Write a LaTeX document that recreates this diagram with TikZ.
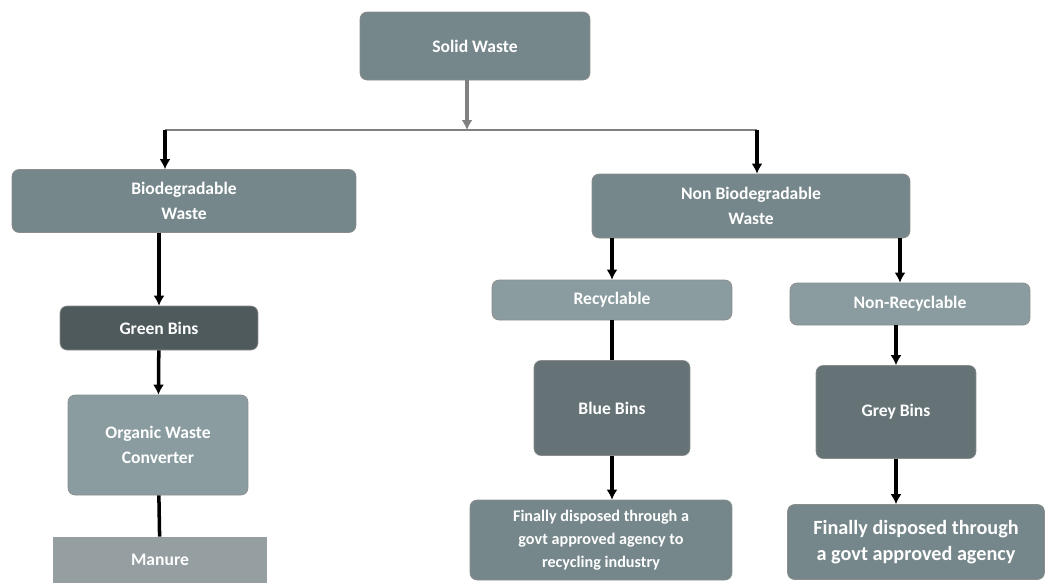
\documentclass[tikz,border=0pt]{standalone}
\usepackage{fontspec}
\setmainfont{Carlito}
\usetikzlibrary{arrows.meta,positioning}
\definecolor{boxmid}{HTML}{75878B}
\definecolor{boxlight}{HTML}{8A9CA0}
\definecolor{boxdark}{HTML}{4E5A5C}
\definecolor{boxbin}{HTML}{657377}
\definecolor{boxfade}{HTML}{959EA0}

\begin{document}
\begin{tikzpicture}[x=0.02cm,y=-0.02cm,>=Latex,
  wbox/.style={draw=black!45,rounded corners=4pt,fill=boxmid,text=white,align=center,
    font=\bfseries\fontsize{10}{14}\selectfont,inner sep=2pt},
  link/.style={line width=2pt,-{Latex[length=2mm,width=2.2mm]}},
  plain/.style={line width=2pt}]
\useasboundingbox (0,0) rectangle (1049,583);
% top level
\node[wbox,minimum width=4.6cm,minimum height=1.36cm] (solid) at (475,46) {Solid Waste};
\node[wbox,minimum width=6.88cm,minimum height=1.26cm] (bio) at (184,201) {Biodegradable\\Waste};
\node[wbox,minimum width=6.36cm,minimum height=1.28cm] (nonbio) at (751,206) {Non Biodegradable\\Waste};
% biodegradable branch
\node[wbox,fill=boxdark,minimum width=3.96cm,minimum height=0.88cm] (green) at (159,328) {Green Bins};
\node[wbox,fill=boxlight,minimum width=3.6cm,minimum height=2.0cm] (organic) at (158,445) {Organic Waste\\Converter};
\node[wbox,draw=none,rounded corners=0pt,fill=boxfade,minimum width=4.3cm,minimum height=0.92cm] (manure) at (160,560) {Manure};
% non biodegradable branch
\node[wbox,fill=boxlight,minimum width=4.8cm,minimum height=0.8cm] (recyc) at (612,300) {Recyclable};
\node[wbox,fill=boxlight,minimum width=4.8cm,minimum height=0.84cm] (nonrecyc) at (910,304) {Non-Recyclable};
\node[wbox,fill=boxbin,minimum width=3.12cm,minimum height=1.9cm] (blue) at (612,408) {Blue Bins};
\node[wbox,fill=boxbin,minimum width=3.2cm,minimum height=1.86cm] (grey) at (896,412) {Grey Bins};
\node[wbox,minimum width=5.24cm,minimum height=1.6cm,font=\bfseries\fontsize{9.2}{13}\selectfont] (fin1) at (601,540) {Finally disposed through a\\govt approved agency to\\recycling industry};
\node[wbox,minimum width=5.14cm,minimum height=1.5cm,font=\bfseries\fontsize{11.5}{15}\selectfont] (fin2) at (916,542) {Finally disposed through\\a govt approved agency};
% junction
\coordinate (jn) at (467,130);
\coordinate (jl) at (165,130);
\coordinate (jr) at (757,130);
\draw[link,draw=gray,fill=gray,line width=2.4pt] (solid.south -| jn) -- (jn);
\draw[gray,line width=1.6pt] (jl) -- (jr);
\draw[link] (jl) -- (bio.north -| jl);
\draw[link] (jr) -- (nonbio.north -| jr);
\draw[link] (bio.south -| green) -- (green.north);
\draw[link] (green) -- (organic);
\draw[plain] (organic) -- (manure);
\draw[link] (nonbio.south -| recyc) -- (recyc.north);
\draw[link] (nonbio.south -| 900,0) -- (nonrecyc.north -| 900,0);
\draw[plain] (recyc) -- (blue);
\draw[link] (nonrecyc.south -| grey) -- (grey.north);
\draw[link] (blue.south) -- (fin1.north -| blue);
\draw[link] (grey) -- (fin2.north -| grey);
\end{tikzpicture}
\end{document}
